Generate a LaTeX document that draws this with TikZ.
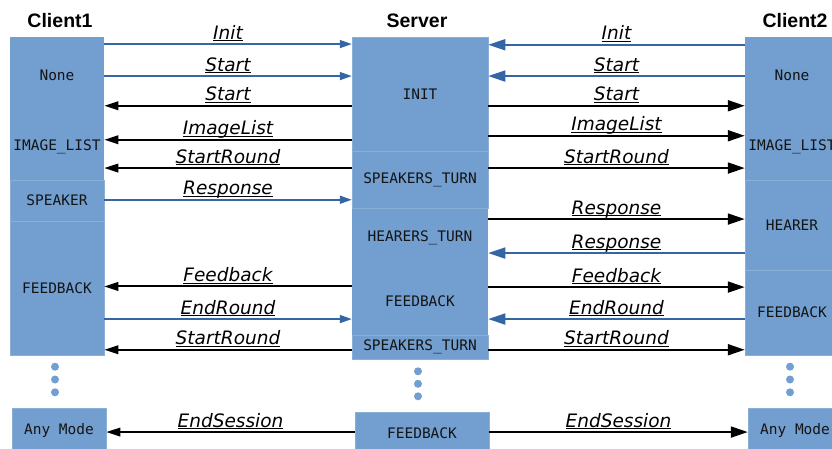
\documentclass[tikz,border=0pt]{standalone}
\usepackage{fontspec}
\setmainfont{DejaVu Sans}
\newfontfamily\monof{DejaVu Sans Mono}
\newfontfamily\headf{Liberation Sans}
\usetikzlibrary{arrows.meta}
\definecolor{boxc}{HTML}{729FCF}
\colorlet{sepc}{boxc!82!white}
\definecolor{bluec}{HTML}{3465A4}
\newcommand\ulbl[1]{\setbox0=\hbox{#1}\rlap{\copy0}\rule[-2pt]{\wd0}{0.9pt}}
\tikzset{
  sect/.style={fill=boxc, draw=sepc, line width=0.5pt, inner sep=0pt, font=\monof\fontsize{14.5}{16}\selectfont, text=black!92},
  head/.style={anchor=base, inner sep=0pt, font=\headf\bfseries\fontsize{19.5}{22}\selectfont},
  lbl/.style={midway, anchor=base, yshift=4.8pt, inner sep=0pt, text=black, font=\itshape\fontsize{18.5}{22}\selectfont},
  bsL/.style={bluec, line width=1.7pt, -{Triangle[length=12pt,width=8pt]}},
  ksL/.style={black, line width=2pt, -{Triangle[length=14pt,width=8.5pt]}},
  bsR/.style={bluec, line width=1.7pt, -{Triangle[length=17pt,width=11pt]}},
  ksR/.style={black, line width=2pt, -{Triangle[length=17pt,width=11pt]}},
  dot/.style={fill=boxc}
}
\begin{document}
\begin{tikzpicture}[x=1pt,y=-1pt]
\useasboundingbox (0,0) rectangle (832,448);
% headers
\node[head] (h1) at (60,27.5) {Client1};
\node[head] (h2) at (417,27.5) {Server};
\node[head] (h3) at (795,27.5) {Client2};
% client1 sections
\node[sect, minimum width=94pt, minimum height=77pt, draw=none] (c1a) at (57,75.5) {None};
\node[sect, minimum width=94pt, minimum height=66pt, draw=none] (c1b) at (57,147) {IMAGE\_LIST};
\node[sect, minimum width=94pt, minimum height=41pt] (c1c) at (57,200.5) {SPEAKER};
\node[sect, minimum width=94pt, minimum height=134pt] (c1d) at (57,288) {FEEDBACK};
% server sections
\node[sect, minimum width=136pt, minimum height=114pt] (s1) at (420,94) {INIT};
\node[sect, minimum width=136pt, minimum height=57pt] (s2) at (420,179.5) {SPEAKERS\_TURN};
\node[sect, minimum width=136pt, minimum height=60pt, draw=none] (s3) at (420,238) {HEARERS\_TURN};
\node[sect, minimum width=136pt, minimum height=67pt, draw=none] (s4) at (420,301.5) {FEEDBACK};
\node[sect, minimum width=136pt, minimum height=24pt] (s5) at (420,347) {SPEAKERS\_TURN};
\draw[sepc, line width=0.5pt] (s3.north west) -- (s3.north east);
% client2 sections
\node[sect, minimum width=94pt, minimum height=77pt, draw=none] (d1) at (792,75.5) {None};
\node[sect, minimum width=94pt, minimum height=66pt, draw=none] (d2) at (792,147) {IMAGE\_LIST};
\node[sect, minimum width=94pt, minimum height=90pt] (d3) at (792,225) {HEARER};
\node[sect, minimum width=94pt, minimum height=85pt] (d4) at (792,312.5) {FEEDBACK};
% bottom boxes
\node[sect, minimum width=94pt, minimum height=44pt] (c1e) at (59,430) {Any Mode};
\node[sect, minimum width=134pt, minimum height=42pt] (s6) at (422,433) {FEEDBACK};
\node[sect, minimum width=94pt, minimum height=44pt] (d5) at (795,430) {Any Mode};
% dots
\foreach \yy in {366.7,379.5,392.3} {
  \fill[dot] (55,\yy) circle (4pt);
  \fill[dot] (790,\yy) circle (4pt);
}
\foreach \yy in {371.3,383.8,396.3} {
  \fill[dot] (418,\yy) circle (4pt);
}
% left side messages
\draw[bsL] ([yshift=-7.3pt]c1a.north east) -- ([yshift=-7.3pt]s1.north west) node[lbl]{\ulbl{Init}};
\draw[bsL] ([yshift=-39.3pt]c1a.north east) -- ([yshift=-39.3pt]s1.north west) node[lbl]{\ulbl{Start}};
\draw[ksL] ([yshift=-69pt]s1.north west) -- ([yshift=-69pt]c1a.north east) node[lbl]{\ulbl{Start}};
\draw[ksL] ([yshift=-103pt]s1.north west) -- ([yshift=-26pt]c1b.north east) node[lbl]{\ulbl{ImageList}};
\draw[ksL] ([yshift=-17.3pt]s2.north west) -- ([yshift=-54.3pt]c1b.north east) node[lbl]{\ulbl{StartRound}};
\draw[bsL] ([yshift=-20pt]c1c.north east) -- ([yshift=-49pt]s2.north west) node[lbl]{\ulbl{Response}};
\draw[ksL] ([yshift=-18.7pt]s4.north west) -- ([yshift=-65.7pt]c1d.north east) node[lbl]{\ulbl{Feedback}};
\draw[bsL] ([yshift=-98.3pt]c1d.north east) -- ([yshift=-51.3pt]s4.north west) node[lbl]{\ulbl{EndRound}};
\draw[ksL] ([yshift=-15pt]s5.north west) -- ([yshift=-129pt]c1d.north east) node[lbl]{\ulbl{StartRound}};
\draw[ksL] ([yshift=-20.3pt]s6.north west) -- ([yshift=-24.3pt]c1e.north east) node[lbl]{\ulbl{EndSession}};
% right side messages
\draw[bsR] ([yshift=-8pt]d1.north west) -- ([yshift=-8pt]s1.north east) node[lbl]{\ulbl{Init}};
\draw[bsR] ([yshift=-39.3pt]d1.north west) -- ([yshift=-39.3pt]s1.north east) node[lbl]{\ulbl{Start}};
\draw[ksR] ([yshift=-69pt]s1.north east) -- ([yshift=-69pt]d1.north west) node[lbl]{\ulbl{Start}};
\draw[ksR] ([yshift=-99pt]s1.north east) -- ([yshift=-22pt]d2.north west) node[lbl]{\ulbl{ImageList}};
\draw[ksR] ([yshift=-17.3pt]s2.north east) -- ([yshift=-54.3pt]d2.north west) node[lbl]{\ulbl{StartRound}};
\draw[ksR] ([yshift=-11.3pt]s3.north east) -- ([yshift=-39.3pt]d3.north west) node[lbl]{\ulbl{Response}};
\draw[bsR] ([yshift=-73.3pt]d3.north west) -- ([yshift=-45.3pt]s3.north east) node[lbl]{\ulbl{Response}};
\draw[ksR] ([yshift=-19.3pt]s4.north east) -- ([yshift=-17.3pt]d4.north west) node[lbl]{\ulbl{Feedback}};
\draw[bsR] ([yshift=-49.3pt]d4.north west) -- ([yshift=-51.3pt]s4.north east) node[lbl]{\ulbl{EndRound}};
\draw[ksR] ([yshift=-15pt]s5.north east) -- ([yshift=-80pt]d4.north west) node[lbl]{\ulbl{StartRound}};
\draw[ksR] ([yshift=-20.3pt]s6.north east) -- ([yshift=-24.3pt]d5.north west) node[lbl]{\ulbl{EndSession}};
\end{tikzpicture}
\end{document}
